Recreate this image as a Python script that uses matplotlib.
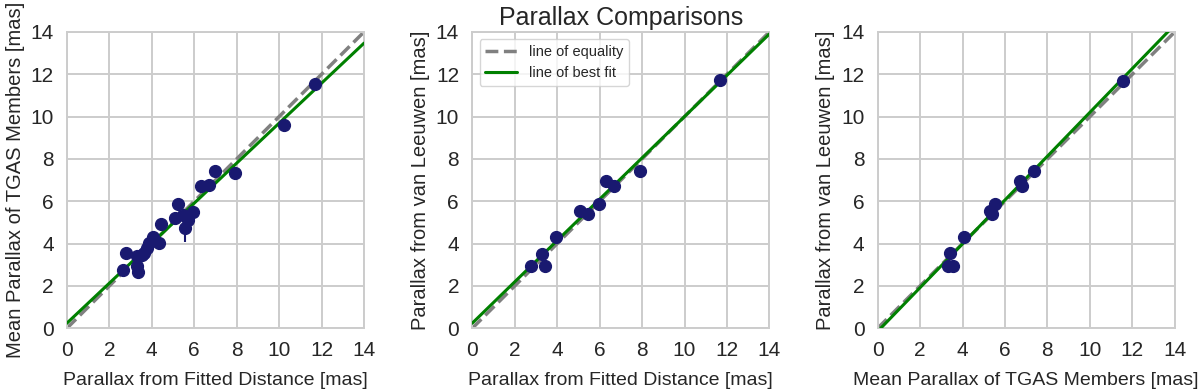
import matplotlib
matplotlib.use('Agg')
import matplotlib.pyplot as plt
import numpy as np
import seaborn as sns

# panel 1: fitted-distance parallax vs mean TGAS parallax
fit_plx = [2.63, 2.79, 3.34, 3.32, 3.29, 3.52, 3.65, 3.79, 3.88, 4.07, 4.35, 4.44,
           5.09, 5.25, 5.48, 5.72, 5.56, 5.95, 6.30, 6.71, 6.97, 7.91, 10.22, 11.68]
tgas_plx = [2.75, 3.57, 2.67, 2.94, 3.43, 3.46, 3.55, 3.77, 4.01, 4.32, 4.01, 4.92,
            5.22, 5.86, 5.34, 5.11, 4.76, 5.50, 6.71, 6.76, 7.42, 7.34, 9.59, 11.52]
tgas_err = [0.15, 0.15, 0.15, 0.15, 0.15, 0.15, 0.15, 0.15, 0.15, 0.15, 0.15, 0.15,
            0.15, 0.15, 0.15, 0.15, 0.70, 0.15, 0.15, 0.15, 0.15, 0.15, 0.15, 0.15]

# panel 2: fitted-distance parallax vs van Leeuwen parallax
fit_plx_vl = [2.79, 3.43, 3.30, 3.96, 5.09, 5.45, 5.95, 6.28, 6.67, 7.89, 11.66]
vl_plx = [2.95, 2.95, 3.52, 4.29, 5.55, 5.42, 5.88, 6.96, 6.71, 7.43, 11.71]

# panel 3: mean TGAS parallax vs van Leeuwen parallax
tgas_plx_vl = [3.30, 3.57, 3.43, 4.09, 5.30, 5.40, 5.54, 6.72, 6.78, 7.36, 11.56]
vl_plx_3 = [2.95, 2.95, 3.54, 4.29, 5.56, 5.41, 5.86, 6.96, 6.71, 7.45, 11.68]

# best fit lines (slope, intercept)
fits = [(0.945, 0.24), (0.976, 0.24), (1.035, -0.15)]

sns.set_style('whitegrid')
plt.rcParams['font.family'] = ['Liberation Sans', 'DejaVu Sans']
plt.rcParams['axes.edgecolor'] = '#cccccc'
plt.rcParams['grid.color'] = '#cccccc'
plt.rcParams['grid.linewidth'] = 1.4

fig, axes = plt.subplots(1, 3, figsize=(12, 3.92), dpi=100)
plt.subplots_adjust(left=0.0557, right=0.979, bottom=0.1625, top=0.9186, wspace=0.364)

panels = [
    (fit_plx, tgas_plx, tgas_err, 'Parallax from Fitted Distance [mas]', 'Mean Parallax of TGAS Members [mas]'),
    (fit_plx_vl, vl_plx, None, 'Parallax from Fitted Distance [mas]', 'Parallax from van Leeuwen [mas]'),
    (tgas_plx_vl, vl_plx_3, None, 'Mean Parallax of TGAS Members [mas]', 'Parallax from van Leeuwen [mas]'),
]

xx = np.array([0, 14])
for ax, (x, y, err, xl, yl), (m, b) in zip(axes, panels, fits):
    ax.plot(xx, xx, '--', color='gray', lw=2.5, label='line of equality', zorder=2)
    ax.plot(xx, m * xx + b, '-', color='green', lw=2.2, label='line of best fit', zorder=3)
    ax.errorbar(x, y, yerr=err, fmt='o', color='midnightblue', ms=8.5, elinewidth=1.5,
                capsize=0, zorder=4)
    ax.set_xlim(0, 14)
    ax.set_ylim(0, 14)
    ax.set_xticks(range(0, 15, 2))
    ax.set_yticks(range(0, 15, 2))
    ax.tick_params(labelsize=15, pad=6)
    ax.set_xlabel(xl, fontsize=14, labelpad=8)
    ax.set_ylabel(yl, fontsize=14.5, labelpad=4)
    for s in ax.spines.values():
        s.set_color('#cccccc')
        s.set_linewidth(1.4)

axes[1].set_title('Parallax Comparisons', fontsize=18, pad=5)
axes[1].legend(loc='upper left', fontsize=10.5, handlelength=2.2, frameon=True)

plt.savefig('out.png')
